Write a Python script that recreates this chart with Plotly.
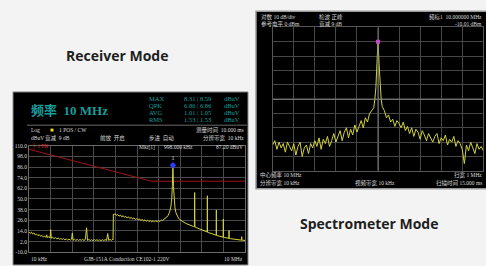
import plotly.graph_objects as go

W, H = 486, 266

# ---------------- Receiver mode data (kHz, dBuV) ----------------
rx_freq_khz = [10, 10.4, 10.8, 11.2, 11.7, 12.2, 12.7, 13.3, 13.9, 14.5, 15.1, 15.8, 16.5, 17.2, 17.6,
               18.0, 18.8, 19.6, 20.0, 20.4, 21.3, 22.3, 23.3, 24.3, 25.4, 26.5, 27.7, 28.9, 30.2,
               31.5, 32.9, 34.4, 35.9, 37.5, 39.0, 40.0, 41.0, 42.8, 44.7, 46.7, 48.8, 51.0, 53.2,
               55.6, 58.0, 60.6, 63.0, 65.0, 67.9, 70.9, 74.0, 77.3, 80.7, 84.3, 88.0, 91.9, 96.0,
               100.3, 104.7, 109.4, 114.2, 119.3, 124.0, 128.0, 133.6, 139.5, 145.7, 147.0, 148.5,
               150, 156, 163, 170, 178, 186, 194, 203, 212, 221, 231, 241, 252, 263, 275, 287, 300,
               313, 327, 342, 357, 373, 390, 407, 425, 444, 464, 485, 506, 529, 552, 577, 603, 630,
               658, 687, 718, 750, 783, 818, 855, 893, 933, 960, 980, 992, 998, 1004, 1015, 1035,
               1065, 1100, 1140, 1190, 1240, 1300, 1360, 1420, 1490, 1560, 1630, 1700, 1780, 1860,
               1940, 1985, 2000, 2015, 2100, 2200, 2300, 2400, 2500, 2600, 2700, 2800, 2900, 2985,
               3000, 3015, 3150, 3300, 3450, 3600, 3750, 3900, 3985, 4000, 4015, 4200, 4400, 4600,
               4800, 4985, 5000, 5015, 5250, 5500, 5750, 5985, 6000, 6015, 6300, 6600, 6900, 7200,
               7500, 7800, 8100, 8400, 8700, 8985, 9000, 9015, 9300, 9650, 10000]
rx_level_dbuv = [12.5, 11.4, 12.6, 10.6, 11.7, 9.6, 10.5, 8.7, 9.8, 8.0, 8.9, 7.2, 8.2, 6.7, 9.6,
                 6.6, 7.5, 6.1, 15.5, 5.8, 6.8, 5.4, 6.4, 5.0, 6.0, 4.6, 5.6, 4.3, 5.3,
                 4.0, 5.0, 3.7, 4.9, 3.6, 4.7, 11.8, 3.5, 4.6, 3.3, 4.5, 3.2, 4.4, 3.4,
                 4.6, 3.2, 4.3, 17.6, 3.3, 4.4, 3.1, 4.2, 3.0, 4.3, 3.2, 4.2, 2.9, 4.1,
                 3.0, 4.2, 3.1, 4.3, 3.2, 11.0, 3.3, 4.5, 3.4, 4.6, 4.0, 33.0,
                 32.0, 33.5, 31.4, 32.6, 30.6, 31.9, 29.9, 31.2, 29.3, 30.5, 28.6, 29.9, 28.0, 29.3,
                 27.4, 28.7, 26.8, 28.1, 26.4, 27.6, 25.7, 27.1, 25.2, 26.6, 24.8, 26.2, 24.5, 25.8,
                 24.2, 25.6, 24.1, 25.5, 24.2, 25.7, 24.6, 26.2, 25.8, 27.4, 28.0, 29.5, 31.5, 35.0,
                 41.0, 50.0, 65.0, 80.0, 88.0, 80.0, 64.0, 50.0, 40.0, 34.5, 31.0, 28.5, 26.8, 25.5,
                 24.2, 23.5, 22.6, 22.0, 21.2, 20.8, 20.0, 19.6, 18.9, 18.7, 57.3, 18.5, 17.8, 17.2,
                 16.5, 16.0, 15.3, 14.9, 14.2, 13.8, 13.1, 12.8, 53.6, 12.6, 12.0, 11.4, 10.9, 10.3,
                 9.9, 9.4, 9.2, 37.6, 9.0, 8.6, 8.1, 7.7, 7.2, 7.0, 27.5, 6.9, 6.6, 6.2, 5.9, 5.7,
                 14.5, 5.6, 5.3, 5.0, 4.8, 4.5, 4.3, 4.1, 3.9, 3.8, 3.7, 3.6, 7.5, 3.6, 3.5, 3.4, 3.3]

limit_freq_khz = [10, 500, 10000]
limit_level_dbuv = [106, 70, 70]

rx_marker_freq_khz = [998]
rx_marker_level = [88]

rx_y_ticks = [110, 98, 86, 74, 62, 50, 38, 26, 14, 2, -10]
rx_y_ticktext = ["110.0", "98.0", "86.0", "74.0", "62.0", "50.0", "38.0", "26.0", "14.0", "2.0", "-10.0"]

# ---------------- Spectrometer mode data (MHz, dBm) ----------------
sp_freq_mhz = [9.50, 9.51, 9.52, 9.53, 9.54, 9.55, 9.56, 9.57, 9.58, 9.59,
               9.60, 9.61, 9.62, 9.63, 9.64, 9.65, 9.66, 9.67, 9.68, 9.69,
               9.70, 9.71, 9.72, 9.73, 9.74, 9.75, 9.76, 9.77, 9.78, 9.79,
               9.80, 9.81, 9.82, 9.83, 9.84, 9.85, 9.86, 9.87, 9.88, 9.89,
               9.90, 9.91, 9.92, 9.93, 9.94, 9.95, 9.96, 9.97, 9.98, 9.985,
               9.99, 9.995, 10.00, 10.005, 10.01, 10.015, 10.02, 10.03, 10.04, 10.05,
               10.06, 10.07, 10.08, 10.09, 10.10, 10.11, 10.12, 10.13, 10.14, 10.15,
               10.16, 10.17, 10.18, 10.19, 10.20, 10.21, 10.22, 10.23, 10.24, 10.25,
               10.26, 10.27, 10.28, 10.29, 10.30, 10.31, 10.32, 10.33, 10.34, 10.35,
               10.36, 10.37, 10.38, 10.39, 10.40, 10.41, 10.42, 10.43, 10.44, 10.45,
               10.46, 10.47, 10.48, 10.49, 10.50]
sp_level_dbm = [-82, -79, -85, -80, -84, -81, -87, -80, -83,
                -86, -81, -89, -83, -80, -90, -84, -82, -88, -81,
                -84, -79, -83, -77, -85, -78, -81, -76, -83, -79, -74, -80,
                -76, -72, -79, -73, -70, -77, -71, -75, -68, -73,
                -69, -65, -70, -63, -66, -60, -58, -56, -50,
                -42, -25, -10, -25, -42, -50, -55, -58, -63,
                -61, -66, -64, -69, -65, -67, -70, -66, -72, -69,
                -74, -70, -76, -71, -73, -78, -72, -75, -79, -74,
                -77, -80, -76, -74, -81, -77, -79, -75, -82, -78,
                -80, -76, -83, -79, -81, -85, -95, -82, -86, -80,
                -84, -88, -81, -85, -83, -86]
sp_marker_freq = [10.0]
sp_marker_level = [-10.01]


def px(x):
    return x / W


def py(y):
    return 1 - y / H


YEL = "#d2d23a"
TEAL = "#1a9c9a"
SERIF = "Liberation Serif"
RF = "Liberation Serif, Noto Sans CJK SC"

fig = go.Figure()

# receiver traces
fig.add_trace(go.Scatter(x=limit_freq_khz, y=limit_level_dbuv, mode="lines",
                         line=dict(color="#9e1418", width=1), xaxis="x", yaxis="y",
                         showlegend=False, hoverinfo="skip"))
fig.add_trace(go.Scatter(x=rx_freq_khz, y=rx_level_dbuv, mode="lines",
                         line=dict(color=YEL, width=1), xaxis="x", yaxis="y",
                         showlegend=False))
fig.add_trace(go.Scatter(x=rx_marker_freq_khz, y=rx_marker_level, mode="markers+text",
                         marker=dict(symbol="diamond", size=5, color="#2a3cff"),
                         text=["1"], textposition="top center",
                         textfont=dict(size=6, color="#dddddd", family=SERIF),
                         xaxis="x", yaxis="y", showlegend=False))

# spectrometer traces
fig.add_trace(go.Scatter(x=sp_freq_mhz, y=sp_level_dbm, mode="lines",
                         line=dict(color=YEL, width=1), xaxis="x2", yaxis="y2",
                         showlegend=False))
fig.add_trace(go.Scatter(x=sp_marker_freq, y=sp_marker_level, mode="markers",
                         marker=dict(symbol="square", size=4, color="#e030e0"),
                         xaxis="x2", yaxis="y2", showlegend=False))

log_grid = [10 ** (4 + 0.3 * k) / 1000 for k in range(11)]

fig.update_layout(
    width=W, height=H,
    margin=dict(l=0, r=0, t=0, b=0),
    paper_bgcolor="#f3f3f3",
    plot_bgcolor="#000000",
    xaxis=dict(domain=[px(29), px(245)], type="log", range=[1, 4],
               tickvals=log_grid, showticklabels=False, ticks="",
               showgrid=True, gridcolor="#4a4a4a", gridwidth=1,
               showline=True, linecolor="#6a6a6a", mirror=True, zeroline=False),
    yaxis=dict(domain=[py(255), py(146)], range=[-10, 110],
               tickvals=rx_y_ticks, ticktext=rx_y_ticktext, ticks="",
               tickfont=dict(size=5.5, color="#d8d8d8", family=SERIF),
               showgrid=True, gridcolor="#4a4a4a", gridwidth=1,
               showline=True, linecolor="#6a6a6a", mirror=True, zeroline=False),
    xaxis2=dict(domain=[px(272.7), px(483.3)], range=[9.5, 10.5], dtick=0.1,
                showticklabels=False, ticks="", showgrid=True, gridcolor="#474747",
                showline=True, linecolor="#555555", mirror=True, zeroline=False,
                anchor="y2"),
    yaxis2=dict(domain=[py(171.7), py(25)], range=[-100, 0], dtick=10,
                showticklabels=False, ticks="", showgrid=True, gridcolor="#474747",
                showline=True, linecolor="#555555", mirror=True, zeroline=False,
                anchor="x2"),
)

shapes = [
    # left instrument panel
    dict(type="rect", xref="paper", yref="paper", x0=px(13), x1=px(248), y0=py(268), y1=py(91),
         fillcolor="#000000", line=dict(color="#8a8a8a", width=1), layer="below"),
    # right instrument panel
    dict(type="rect", xref="paper", yref="paper", x0=px(256), x1=px(487), y0=py(190), y1=py(8.5),
         fillcolor="#000000", line=dict(color="#9a9a9a", width=1.5), layer="below"),
    # separator in left header
    dict(type="line", xref="paper", yref="paper", x0=px(27), x1=px(247), y0=py(125), y1=py(125),
         line=dict(color="#6a6a6a", width=1)),
    # yellow legend square
    dict(type="rect", xref="paper", yref="paper", x0=px(50.5), x1=px(53.5), y0=py(131.5), y1=py(128.5),
         fillcolor="#f0e000", line=dict(width=0)),
    # spectrometer centre lines
    dict(type="line", xref="x2", yref="y2", x0=9.5, x1=10.5, y0=-50, y1=-50,
         line=dict(color="#8a8a8a", width=1)),
    dict(type="line", xref="x2", yref="y2", x0=10.0, x1=10.0, y0=-100, y1=0,
         line=dict(color="#7a7a7a", width=1)),
]
fig.update_layout(shapes=shapes)

ann = []


def add(text, x, y, size, color, family, anchor="left", bold=False):
    ann.append(dict(text=("<b>%s</b>" % text) if bold else text, x=px(x), y=py(y),
                    xref="paper", yref="paper", xanchor=anchor, yanchor="middle",
                    showarrow=False, font=dict(size=size, color=color, family=family)))


# titles
add("Receiver Mode", 116.5, 54, 14, "#1e1e1e", "Open Sans", "center", True)
add("Spectrometer Mode", 369, 226, 14, "#1e1e1e", "Open Sans", "center", True)

# left header
add("频率  10 MHz", 29, 110, 13, TEAL, RF, "left", True)
rows = [("MAX", "8.31 | 8.59", 97.7), ("QPK", "6.86 | 6.86", 105.0),
        ("AVG", "1.01 | 1.05", 112.3), ("RMS", "1.53 | 1.53", 119.5)]
for name, val, yy in rows:
    add(name, 146.5, yy, 6.5, TEAL, SERIF)
    add(val, 181.5, yy, 6.5, TEAL, SERIF)
    add("dBuV", 242, yy, 6.5, TEAL, SERIF, "right")

SM = 5.5
LG = "#d8d8d8"
add("Log", 29, 130, SM, LG, SERIF)
add("1 POS / CW", 56.5, 130, SM, LG, SERIF)
add("测量时间  10.000 ms", 246, 130, SM, LG, RF, "right")
add("dBuV", 29, 138.3, SM, LG, SERIF)
add("衰减  9 dB", 42.5, 138.3, SM, LG, RF)
add("前放  开启", 98, 138.3, SM, LG, RF)
add("步进  自动", 146.5, 138.3, SM, LG, RF)
add("分辨带宽  10 kHz", 246, 138.3, SM, LG, RF, "right")

add("├ 1 PK", 30, 147, SM, "#e02020", SERIF)
add("Mkr[1]", 137, 147, SM, LG, SERIF)
add("998.000 kHz", 162, 147, SM, LG, SERIF)
add("87.20 dBuV", 245, 147, SM, LG, SERIF, "right")

add("10 kHz", 29, 262, SM, LG, SERIF)
add("GJB-151A Conduction CE102-1 220V", 127, 262, SM, LG, SERIF, "center")
add("10 MHz", 245, 262, SM, LG, SERIF, "right")

# right header / footer
add("对数 10 dB/div", 259, 14.5, SM, LG, RF)
add("检波 正峰", 316.5, 14.5, SM, LG, RF)
add("频标1  10.000000 MHz", 484, 14.5, SM, LG, RF, "right")
add("参考电平 0 dBm", 259, 21.5, SM, LG, RF)
add("衰减 9 dB", 316.5, 21.5, SM, LG, RF)
add("-10.01 dBm", 484, 21.5, SM, LG, RF, "right")
add("中心频率 10 MHz", 258, 176, SM, LG, RF)
add("扫宽 1 MHz", 484, 176, SM, LG, RF, "right")
add("分辨带宽 10 kHz", 258, 184.5, SM, LG, RF)
add("视频带宽 10 kHz", 352.5, 184.5, SM, LG, RF)
add("扫描时间 15.000 ms", 484, 184.5, SM, LG, RF, "right")

fig.update_layout(annotations=ann)

fig.write_html("out.html", config={"displayModeBar": False},
               post_script="document.body.style.margin='0';document.body.style.overflow='hidden';")
